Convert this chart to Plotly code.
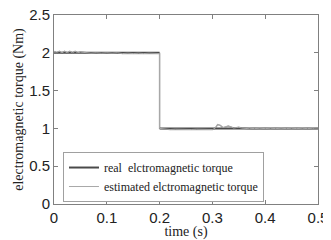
import plotly.graph_objects as go

# Data
real_time = [0.0, 0.2, None, 0.2, 0.5]
real_torque = [2.0, 2.0, None, 1.0, 1.0]

est_time = [0.0, 0.005, 0.01, 0.015, 0.02, 0.025, 0.03, 0.035, 0.04, 0.045, 0.05,
            0.06, 0.07, 0.08, 0.09, 0.10, 0.11, 0.12, 0.13, 0.14, 0.15, 0.16, 0.17,
            0.18, 0.19, 0.2, 0.2, 0.21, 0.22, 0.23, 0.24, 0.25, 0.26, 0.27, 0.28,
            0.29, 0.30, 0.305, 0.31, 0.315, 0.32, 0.325, 0.33, 0.335, 0.34, 0.345,
            0.35, 0.355, 0.36, 0.37, 0.38, 0.39, 0.40, 0.41, 0.42, 0.43, 0.44,
            0.45, 0.46, 0.47, 0.48, 0.49, 0.5]
est_torque = [2.02, 2.0, 2.02, 2.0, 2.02, 2.0, 2.02, 2.0, 2.02, 2.0, 2.01,
              2.0, 1.995, 2.0, 1.995, 2.0, 1.995, 2.0, 1.99, 1.995, 1.99, 1.995, 1.99,
              1.995, 1.99, 1.99, 1.0, 0.99, 0.985, 0.99, 0.985, 0.99, 0.985, 0.99, 0.985,
              0.99, 0.985, 1.0, 1.05, 1.04, 1.01, 1.02, 1.03, 1.02, 1.005, 1.01,
              1.015, 1.005, 1.0, 0.995, 1.0, 0.995, 1.0, 0.995, 1.0, 0.995, 1.0,
              0.995, 1.0, 0.995, 1.0, 0.995, 1.0]

x_ticks = [0, 0.1, 0.2, 0.3, 0.4, 0.5]
x_tick_labels = ["0", "0.1", "0.2", "0.3", "0.4", "0.5"]
y_ticks = [0, 0.5, 1, 1.5, 2, 2.5]
y_tick_labels = ["0", "0.5", "1", "1.5", "2", "2.5"]

SERIF = "Liberation Serif"
SANS = "Liberation Sans"

fig = go.Figure()
fig.add_trace(go.Scatter(x=est_time, y=est_torque, mode="lines",
                         name="estimated elctromagnetic torque", showlegend=False,
                         line=dict(color="#a8a8a8", width=1.5)))
fig.add_trace(go.Scatter(x=real_time, y=real_torque, mode="lines",
                         name="real\u00a0\u00a0elctromagnetic torque",
                         line=dict(color="#4a4a4a", width=2)))
fig.add_trace(go.Scatter(x=est_time, y=est_torque, mode="lines",
                         name="estimated elctromagnetic torque",
                         line=dict(color="#a8a8a8", width=1)))

axis_common = dict(showgrid=False, zeroline=False, showline=True, linecolor="#808080",
                   linewidth=1, mirror="ticks", ticks="inside", ticklen=4,
                   tickcolor="#808080", automargin=False, ticklabeloverflow="allow",
                   tickfont=dict(family=SANS, size=15, color="#222"))

# the page body adds an 8px offset, so the figure is 8px smaller
fig.update_layout(
    width=323, height=232,
    margin=dict(l=46, r=13, t=7, b=36),
    paper_bgcolor="white", plot_bgcolor="white",
    showlegend=True,
    legend=dict(x=0.034, y=0.275, xanchor="left", yanchor="top",
                bordercolor="#a0a0a0", borderwidth=1, bgcolor="white",
                font=dict(family=SERIF, size=12, color="#222"),
                itemwidth=30, tracegroupgap=0),
    xaxis=dict(range=[0, 0.5], tickvals=x_ticks, ticktext=x_tick_labels,
               title=dict(text="time (s)", standoff=0,
                          font=dict(family=SERIF, size=14, color="#222")),
               **axis_common),
    yaxis=dict(range=[0, 2.5], tickvals=y_ticks, ticktext=y_tick_labels,
               title=dict(text="electromagnetic torque (Nm)", standoff=2,
                          font=dict(family=SERIF, size=14, color="#222")),
               **axis_common),
)

fig.write_html("out.html")
